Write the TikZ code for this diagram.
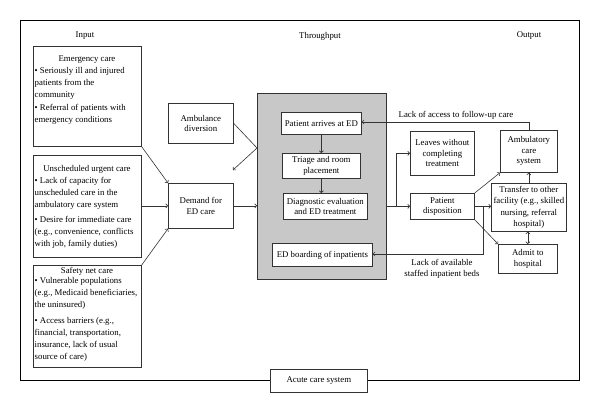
\documentclass[tikz,border=0pt]{standalone}
\usepackage{fontspec}
\setmainfont{Liberation Serif}
\usetikzlibrary{arrows.meta,calc}
\definecolor{ln}{HTML}{333333}
\definecolor{grayfill}{HTML}{C8C8C8}
\tikzset{
  box/.style={draw=ln, line width=0.7pt, fill=white, inner sep=0pt, anchor=north west},
  lbl/.style={font=\fontsize{8.8}{10.5}\selectfont, align=center, inner sep=0pt, text=black},
  blt/.style={font=\fontsize{8.8}{12}\selectfont, align=left, inner sep=0pt, anchor=north west, text=black},
  conn/.style={draw=ln, line width=0.6pt},
  arr/.style={conn, -{To[length=2.5pt,width=4.5pt]}},
  darr/.style={conn, {To[length=2.5pt,width=4.5pt]}-{To[length=2.5pt,width=4.5pt]}},
}
\begin{document}
\begin{tikzpicture}[x=1pt,y=-1pt]
\useasboundingbox (0,0) rectangle (600,412);
% outer frame
\draw[draw=black, line width=0.8pt] (20,20) rectangle (579,380);
\node[box, minimum width=97pt, minimum height=23pt] (acute) at (270,369) {};
\node[lbl] (acuteT) at (acute.center) {Acute care system};

% headings
\node[lbl] (hin) at (85,36) {Input};
\node[lbl] (hth) at (320,36) {Throughput};
\node[lbl] (hout) at (529,36) {Output};

% input boxes
\node[box, minimum width=108pt, minimum height=100pt] (emerg) at (33,46) {};
\node[lbl] (emergT) at (87,60) {Emergency care};
\node[blt] (emergB) at (34.5,67) {\textbullet\ Seriously ill and injured\\patients from the\\community\\[1.5pt]\textbullet\ Referral of patients with\\emergency conditions};

\node[box, minimum width=108pt, minimum height=102pt] (unsch) at (33,155) {};
\node[lbl] (unschT) at (87,169) {Unscheduled urgent care};
\node[blt] (unschB) at (34.5,177) {\textbullet\ Lack of capacity for\\unscheduled care in the\\ambulatory care system\\[3pt]\textbullet\ Desire for immediate care\\(e.g., convenience, conflicts\\with job, family duties)};

\node[box, minimum width=108pt, minimum height=102pt] (safety) at (33,265) {};
\node[lbl] (safetyT) at (87,271) {Safety net care};
\node[blt] (safetyB) at (34.5,277) {\textbullet\ Vulnerable populations\\(e.g., Medicaid beneficiaries,\\the uninsured)\\[4pt]\textbullet\ Access barriers (e.g.,\\financial, transportation,\\insurance, lack of usual\\source of care)};

% middle left
\node[box, minimum width=65pt, minimum height=40pt] (amb) at (168,103) {};
\node[lbl] (ambT) at (amb.center) {Ambulance\\diversion};
\node[box, minimum width=65pt, minimum height=45pt] (demand) at (168,183) {};
\node[lbl] (demandT) at (demand.center) {Demand for\\ED care};

% throughput gray box
\node[box, fill=grayfill, minimum width=129pt, minimum height=186pt] (thru) at (257,93) {};
\node[box, minimum width=80pt, minimum height=22pt] (arrive) at (281,112) {};
\node[lbl] (arriveT) at (arrive.center) {Patient arrives at ED};
\node[box, minimum width=78pt, minimum height=25pt] (triage) at (282,153) {};
\node[lbl] (triageT) at (triage.center) {Triage and room\\placement};
\node[box, minimum width=84pt, minimum height=26pt] (diag) at (283,193) {};
\node[lbl] (diagT) at (diag.center) {Diagnostic evaluation\\and ED treatment};
\node[box, minimum width=100pt, minimum height=23pt] (board) at (272,243) {};
\node[lbl] (boardT) at (board.center) {ED boarding of inpatients};

% output side
\node[box, minimum width=64pt, minimum height=44pt] (leaves) at (410,131) {};
\node[lbl] (leavesT) at (leaves.center) {Leaves without\\completing\\treatment};
\node[box, minimum width=57pt, minimum height=42pt] (ambcare) at (500,130) {};
\node[lbl] (ambcareT) at (ambcare.center) {Ambulatory\\care\\system};
\node[box, minimum width=64pt, minimum height=26pt] (disp) at (410,193) {};
\node[lbl] (dispT) at (disp.center) {Patient\\disposition};
\node[box, minimum width=75pt, minimum height=48pt] (transfer) at (491,183) {};
\node[lbl, font=\fontsize{8.8}{11.5}\selectfont] (transferT) at (transfer.center) {Transfer to other\\facility (e.g., skilled\\nursing, referral\\hospital)};
\node[box, minimum width=59pt, minimum height=29pt] (admit) at (498,244) {};
\node[lbl] (admitT) at (admit.center) {Admit to\\hospital};

% connectors: input to demand
\draw[arr] (emerg.south east) -- (demand.north west);
\draw[arr] (unsch.east |- demand.west) -- (demand.west);
\draw[arr] (safety.north east) -- (demand.south west);

% ambulance diversion
\coordinate (ambjoin) at (thru.west |- 0,148);
\coordinate (ambend) at (233,170);
\draw[conn] (amb.east) -- (ambjoin);
\draw[arr] (ambjoin) -- (ambend);

% demand to throughput
\draw[arr] (demand.east) -- (demand.east -| thru.west);

% inside
\draw[arr] (arrive.south) -- (arrive.south |- triage.north);
\draw[arr] (triage.south) -- (triage.south |- diag.north);

% out of throughput
\coordinate (outA) at (thru.east |- diag.east);
\coordinate (outB) at (396,0 |- diag.east);
\draw[conn] (outA) -- (outB);
\draw[arr] (outB) |- (leaves.west);
\draw[arr] (outB) -- (disp.west);

% disposition
\draw[arr] (disp.north east) -- (ambcare.south west);
\draw[arr] (disp.east) -- (disp.east -| transfer.west);
\draw[arr] (disp.south east) -- (admit.north west);
\draw[arr] (transfer.north -| ambcare.south) -- (ambcare.south);
\draw[darr] (transfer.south -| admit.north) -- (admit.north);

% lack of access
\coordinate (topturn) at (ambcare.north |- 0,122);
\draw[arr] (ambcare.north) -- (topturn) -- (topturn -| arrive.east);
\node[lbl] (lackacc) at (456,115) {Lack of access to follow-up care};

% lack of beds
\coordinate (bedA) at (483,0 |- disp.east);
\coordinate (bedB) at (483,254);
\draw[arr] (bedA) -- (bedB) -- (bedB -| board.east);
\node[lbl] (lackbeds) at (442,269) {Lack of available\\staffed inpatient beds};
\end{tikzpicture}
\end{document}
